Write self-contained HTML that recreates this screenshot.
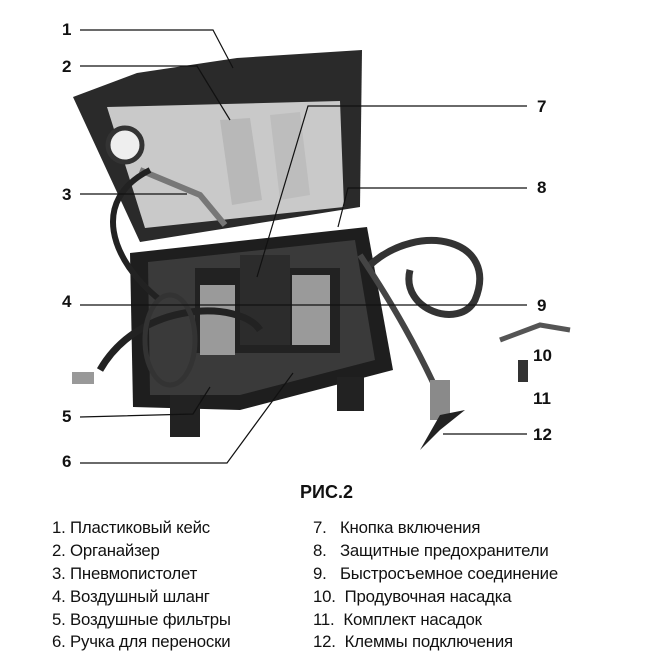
<!DOCTYPE html>
<html><head><meta charset="utf-8"><style>
body{margin:0;background:#fff;width:645px;height:663px;overflow:hidden;position:relative;font-family:"Liberation Sans","DejaVu Sans",sans-serif}
.n{position:absolute;font-weight:bold;font-size:17px;color:#111}
.l{position:absolute;font-size:16.8px;color:#111;white-space:nowrap;letter-spacing:-0.2px}
</style></head><body>
<svg width="645" height="663" style="position:absolute;left:0;top:0">
<path d="M73,97 L137,73 L237,58 L362,50 L360,207 L140,242 Z" fill="#2a2a2a"/>
<path d="M107,107 L340,101 L344,207 L145,228 Z" fill="#c9c9c9"/>
<path d="M220,120 L250,118 L262,200 L232,205 Z" fill="#b8b8b8"/>
<path d="M270,115 L300,112 L310,195 L280,200 Z" fill="#bdbdbd"/>
<circle cx="125" cy="145" r="17" fill="#eee" stroke="#333" stroke-width="5"/>
<path d="M140,170 L200,195 L225,225" stroke="#777" stroke-width="6" fill="none"/>
<path d="M130,253 L367,227 L393,370 L240,410 L133,407 Z" fill="#1e1e1e"/>
<path d="M148,262 L355,240 L375,360 L240,395 L150,395 Z" fill="#3a3a3a"/>
<rect x="195" y="268" width="145" height="85" fill="#222"/>
<rect x="200" y="285" width="35" height="70" fill="#9a9a9a"/>
<rect x="292" y="275" width="38" height="70" fill="#9a9a9a"/>
<rect x="240" y="255" width="50" height="90" fill="#2c2c2c"/>
<rect x="170" y="395" width="30" height="42" fill="#222"/>
<rect x="337" y="377" width="27" height="34" fill="#222"/>
<path d="M150,170 C90,200 110,260 160,300" stroke="#222" stroke-width="6" fill="none"/>
<path d="M100,370 C140,300 240,300 260,330" stroke="#222" stroke-width="7" fill="none"/>
<ellipse cx="170" cy="340" rx="25" ry="45" fill="none" stroke="#333" stroke-width="5"/>
<path d="M370,265 C420,220 500,240 475,300 C460,330 400,310 410,270" stroke="#333" stroke-width="7" fill="none"/>
<path d="M360,255 C390,300 420,350 450,420" stroke="#444" stroke-width="6" fill="none"/>
<rect x="430" y="380" width="20" height="40" fill="#8a8a8a"/>
<path d="M420,450 L440,415 L465,410 L440,430 Z" fill="#222"/>
<path d="M500,340 L540,325 L570,330" stroke="#555" stroke-width="5" fill="none"/>
<rect x="518" y="360" width="10" height="22" fill="#333"/>
<rect x="72" y="372" width="22" height="12" fill="#999"/>
<g stroke="#111" stroke-width="1.2" fill="none">
<polyline points="80,30 213,30 233,68"/>
<polyline points="80,66 197,66 230,120"/>
<polyline points="80,194 187,194"/>
<polyline points="527,106 308,106 257,277"/>
<polyline points="527,188 348,188 338,227"/>
<polyline points="80,305 527,305"/>
<polyline points="80,417 193,414 210,387"/>
<polyline points="80,463 227,463 293,373"/>
<polyline points="443,434 527,434"/>
</g>
</svg>
<div class="n" style="left:62px;top:20px">1</div>
<div class="n" style="left:62px;top:57px">2</div>
<div class="n" style="left:62px;top:185px">3</div>
<div class="n" style="left:62px;top:292px">4</div>
<div class="n" style="left:62px;top:407px">5</div>
<div class="n" style="left:62px;top:452px">6</div>
<div class="n" style="left:537px;top:97px">7</div>
<div class="n" style="left:537px;top:178px">8</div>
<div class="n" style="left:537px;top:296px">9</div>
<div class="n" style="left:533px;top:346px">10</div>
<div class="n" style="left:533px;top:389px">11</div>
<div class="n" style="left:533px;top:425px">12</div>
<div class="n" style="left:300px;top:482px;font-size:18px">РИС.2</div>
<div class="l" style="left:52px;top:518px">1. Пластиковый кейс</div>
<div class="l" style="left:52px;top:541px">2. Органайзер</div>
<div class="l" style="left:52px;top:564px">3. Пневмопистолет</div>
<div class="l" style="left:52px;top:587px">4. Воздушный шланг</div>
<div class="l" style="left:52px;top:610px">5. Воздушные фильтры</div>
<div class="l" style="left:52px;top:632px">6. Ручка для переноски</div>
<div class="l" style="left:313px;top:518px">7.&nbsp;&nbsp; Кнопка включения</div>
<div class="l" style="left:313px;top:541px">8.&nbsp;&nbsp; Защитные предохранители</div>
<div class="l" style="left:313px;top:564px">9.&nbsp;&nbsp; Быстросъемное соединение</div>
<div class="l" style="left:313px;top:587px">10.&nbsp; Продувочная насадка</div>
<div class="l" style="left:313px;top:610px">11.&nbsp; Комплект насадок</div>
<div class="l" style="left:313px;top:632px">12.&nbsp; Клеммы подключения</div>
</body></html>
